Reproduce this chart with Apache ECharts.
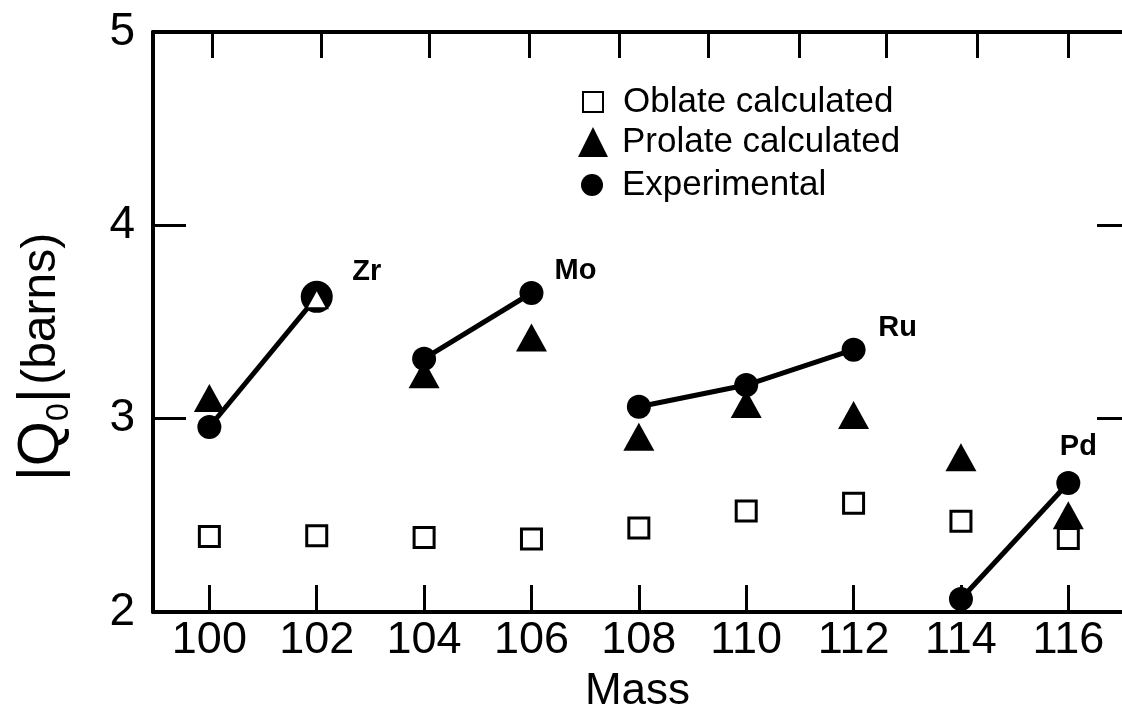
<!DOCTYPE html>
<html>
<head>
<meta charset="utf-8">
<script src="https://cdn.jsdelivr.net/npm/echarts@6/dist/echarts.min.js"></script>
<style>
html,body{margin:0;padding:0;background:#fff;}
#chart{width:1122px;height:712px;}
</style>
</head>
<body>
<div id="chart"></div>
<script>
// ---- data ----
const masses = [100, 102, 104, 106, 108, 110, 112, 114, 116];
const oblateQ = [2.39, 2.395, 2.385, 2.377, 2.434, 2.522, 2.562, 2.47, 2.38];
const prolateQ = [3.107, 3.62, 3.23, 3.42, 2.906, 3.076, 3.019, 2.80, 2.50];
const expMass = [100, 102, 104, 106, 108, 110, 112, 114, 116];
const expQ = [2.957, 3.63, 3.31, 3.65, 3.062, 3.174, 3.357, 2.067, 2.667];
const expElement = ['Zr', 'Zr', 'Mo', 'Mo', 'Ru', 'Ru', 'Ru', 'Pd', 'Pd'];
const elements = ['Zr', 'Mo', 'Ru', 'Pd'];
const xTickLabels = [100, 102, 104, 106, 108, 110, 112, 114, 116];
const topTickValues = [100.06, 102.08, 104.1, 105.96, 107.64, 109.3, 110.99, 112.61, 114.3, 116.0];
const yTicks = [2, 3, 4, 5];
const rightTicks = [3, 4];
const legendNames = ['Oblate calculated', 'Prolate calculated', 'Experimental'];

// ---- chart ----
const FONT = 'Liberation Sans';
const chart = echarts.init(document.getElementById('chart'), null, {renderer: 'canvas'});

const labelOffsets = {Zr: [50, -25], Mo: [44, -22], Ru: [44, -22], Pd: [10, -36]};

function coincides(m, q) {
  const j = expMass.indexOf(m);
  return j >= 0 && Math.abs(expQ[j] - q) < 0.03;
}

const expSeries = elements.map(el => {
  const pts = [];
  expMass.forEach((m, i) => { if (expElement[i] === el) pts.push([m, expQ[i]]); });
  const data = pts.map((p, k) => {
    const pIdx = masses.indexOf(p[0]);
    const big = pIdx >= 0 && Math.abs(prolateQ[pIdx] - p[1]) < 0.03;
    const item = {value: p};
    if (big) item.symbolSize = 32;
    if (k === pts.length - 1) {
      item.label = {
        show: true, formatter: el, position: 'inside', offset: labelOffsets[el],
        color: '#000', fontSize: 29, fontFamily: FONT, fontWeight: 'bold'
      };
    }
    return item;
  });
  return {
    name: 'Experimental', type: 'line', data: data,
    symbol: 'circle', symbolSize: 24, showSymbol: true,
    lineStyle: {color: '#000', width: 5},
    itemStyle: {color: '#000'},
    z: 3, silent: true, animation: false
  };
});

const prolateData = masses.map((m, i) => {
  if (coincides(m, prolateQ[i])) {
    return {value: [m, prolateQ[i]], symbolSize: [21, 19], itemStyle: {color: '#fff', borderColor: '#000', borderWidth: 2}};
  }
  return {value: [m, prolateQ[i]]};
});

function legendBlock(name, icon, left, top, size, pad) {
  return {
    orient: 'vertical', left: left, top: top, padding: 0,
    itemWidth: size, itemHeight: size, itemGap: 0,
    textStyle: {fontSize: 35, fontFamily: FONT, color: '#000', padding: [0, 0, 0, pad], lineHeight: 38},
    selectedMode: false,
    data: [{name: name, icon: icon}]
  };
}

const option = {
  backgroundColor: '#fff',
  animation: false,
  grid: {left: 153, right: 0, top: 32, bottom: 100, containLabel: false, outerBoundsMode: 'none'},
  legend: [
    legendBlock(legendNames[0], 'rect', 582, 83, 20, 15),
    legendBlock(legendNames[1], 'triangle', 578, 123, 30, 9),
    legendBlock(legendNames[2], 'circle', 581, 166, 22, 14)
  ],
  xAxis: [
    {
      type: 'value', position: 'bottom', min: 98.95, max: 117,
      name: 'Mass', nameLocation: 'middle', nameGap: 58,
      nameTextStyle: {fontSize: 44, fontFamily: FONT, color: '#000'},
      axisLine: {show: true, onZero: false, lineStyle: {color: '#000', width: 4}},
      axisTick: {show: true, inside: true, length: 27, lineStyle: {color: '#000', width: 3}, customValues: xTickLabels},
      axisLabel: {show: true, margin: 6, fontSize: 45, fontFamily: FONT, color: '#000', customValues: xTickLabels},
      splitLine: {show: false}
    },
    {
      type: 'value', position: 'top', min: 98.95, max: 117,
      axisLine: {show: true, onZero: false, lineStyle: {color: '#000', width: 4}},
      axisTick: {show: true, inside: true, length: 26, lineStyle: {color: '#000', width: 3}, customValues: topTickValues},
      axisLabel: {show: false},
      splitLine: {show: false}
    }
  ],
  yAxis: [
    {
      type: 'value', position: 'left', min: 2, max: 5, interval: 1,
      name: '{a||Q}{s|0}{a||} {c|(barns)}', nameLocation: 'middle', nameGap: 78, nameRotate: 90,
      nameTextStyle: {
        color: '#000', fontFamily: FONT, padding: [0, 70, 0, 0],
        rich: {
          a: {fontSize: 58, fontFamily: FONT, color: '#000', lineHeight: 66, verticalAlign: 'middle'},
          s: {fontSize: 32, fontFamily: FONT, color: '#000', lineHeight: 66, verticalAlign: 'bottom'},
          c: {fontSize: 48, fontFamily: FONT, color: '#000', lineHeight: 66, verticalAlign: 'middle'}
        }
      },
      axisLine: {show: true, onZero: false, lineStyle: {color: '#000', width: 4}},
      axisTick: {show: true, inside: true, length: 33, lineStyle: {color: '#000', width: 3}, customValues: rightTicks},
      axisLabel: {show: true, margin: 18, fontSize: 46, fontFamily: FONT, color: '#000', customValues: yTicks},
      splitLine: {show: false}
    },
    {
      type: 'value', position: 'right', min: 2, max: 5, interval: 1,
      axisLine: {show: false},
      axisTick: {show: true, inside: true, length: 25, lineStyle: {color: '#000', width: 3}, customValues: rightTicks},
      axisLabel: {show: false},
      splitLine: {show: false}
    }
  ],
  series: [
    {
      name: legendNames[0], type: 'scatter', symbol: 'rect', symbolSize: 20,
      data: masses.map((m, i) => [m, oblateQ[i]]),
      itemStyle: {color: '#fff', borderColor: '#000', borderWidth: 3, opacity: 1},
      z: 2, silent: true
    },
    ...expSeries,
    {
      name: legendNames[1], type: 'scatter', symbol: 'triangle', symbolSize: [31, 28],
      data: prolateData,
      itemStyle: {color: '#000', opacity: 1},
      z: 4, silent: true
    }
  ]
};
chart.setOption(option);
</script>
</body>
</html>
